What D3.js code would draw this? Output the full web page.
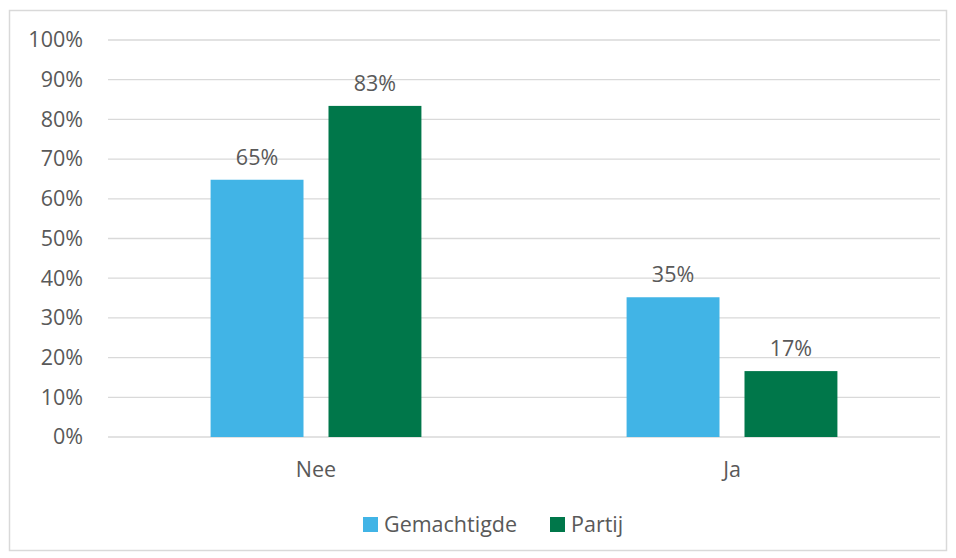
<!DOCTYPE html>
<html>
<head>
<meta charset="utf-8">
<script src="https://d3js.org/d3.v7.min.js"></script>
<style>
body { margin: 0; background: #fff; font-family: "Open Sans", "Noto Sans", sans-serif; }
svg text { fill: #595959; }
</style>
</head>
<body>
<svg id="chart" width="956" height="558"></svg>
<script>
// data
var categories = ['Nee', 'Ja'];
var seriesNames = ['Gemachtigde', 'Partij'];
var gemachtigde = [64.8, 35.2];
var partij = [83.4, 16.6];
var yTicks = [0, 10, 20, 30, 40, 50, 60, 70, 80, 90, 100];
var colors = ['#41B4E6', '#00774A'];
var fontSize = '21.5px';

var svg = d3.select('#chart');
var margin = {top: 40, right: 16, bottom: 121, left: 108};
var width = 956 - margin.left - margin.right;
var height = 558 - margin.top - margin.bottom;

//outer chart border
svg.append('rect').attr('x', 9.5).attr('y', 10.5).attr('width', 937).attr('height', 540)
	.attr('fill', 'none').attr('stroke', '#d9d9d9').attr('stroke-width', 1.5);

var g = svg.append('g').attr('transform', 'translate(' + margin.left + ',' + margin.top + ')');

var x0 = d3.scaleBand().domain(categories).range([0, width]);
var x1 = d3.scaleBand().domain(seriesNames).range([0, x0.bandwidth()]).paddingInner(0.212).paddingOuter(0.87);
var y = d3.scaleLinear().domain([0, 100]).range([height, 0]);

//gridlines
g.append('g').selectAll('line').data(yTicks).join('line')
	.attr('x1', 0).attr('x2', width)
	.attr('y1', function(d) { return y(d); }).attr('y2', function(d) { return y(d); })
	.attr('stroke', '#d9d9d9').attr('stroke-width', 1.3);

//y axis labels
var yAxis = d3.axisLeft(y).tickValues(yTicks).tickSize(0).tickPadding(25)
	.tickFormat(function(d) { return d + '%'; });
var ya = g.append('g').call(yAxis);
ya.select('.domain').remove();
ya.attr('font-size', null).attr('font-family', null);
ya.selectAll('text').style('font-size', fontSize).attr('fill', '#595959');

//x axis labels
var xAxis = d3.axisBottom(x0).tickSize(0).tickPadding(25);
var xa = g.append('g').attr('transform', 'translate(0,' + height + ')').call(xAxis);
xa.select('.domain').remove();
xa.attr('font-size', null).attr('font-family', null);
xa.selectAll('text').style('font-size', fontSize).attr('fill', '#595959');

var rows = categories.map(function(c, i) {
	return {cat: c, vals: [{s: seriesNames[0], v: gemachtigde[i]}, {s: seriesNames[1], v: partij[i]}]};
});

var groups = g.selectAll('.cat').data(rows).join('g')
	.attr('transform', function(d) { return 'translate(' + x0(d.cat) + ',0)'; });

groups.selectAll('rect').data(function(d) { return d.vals; }).join('rect')
	.attr('x', function(d) { return x1(d.s); })
	.attr('width', x1.bandwidth())
	.attr('y', function(d) { return y(d.v); })
	.attr('height', function(d) { return height - y(d.v); })
	.attr('fill', function(d, i) { return colors[i]; });

groups.selectAll('text.lbl').data(function(d) { return d.vals; }).join('text')
	.attr('class', 'lbl')
	.attr('x', function(d) { return x1(d.s) + x1.bandwidth() / 2; })
	.attr('y', function(d) { return y(d.v) - 15; })
	.attr('text-anchor', 'middle')
	.style('font-size', fontSize)
	.text(function(d) { return Math.round(d.v) + '%'; });

//legend
var legend = svg.append('g').attr('transform', 'translate(363,532)');
var legendX = [0, 187];
seriesNames.forEach(function(s, i) {
	legend.append('rect').attr('x', legendX[i]).attr('y', -15).attr('width', 15).attr('height', 15).attr('fill', colors[i]);
	legend.append('text').attr('x', legendX[i] + 21).attr('y', 0).style('font-size', fontSize).text(s);
});
</script>
</body>
</html>
